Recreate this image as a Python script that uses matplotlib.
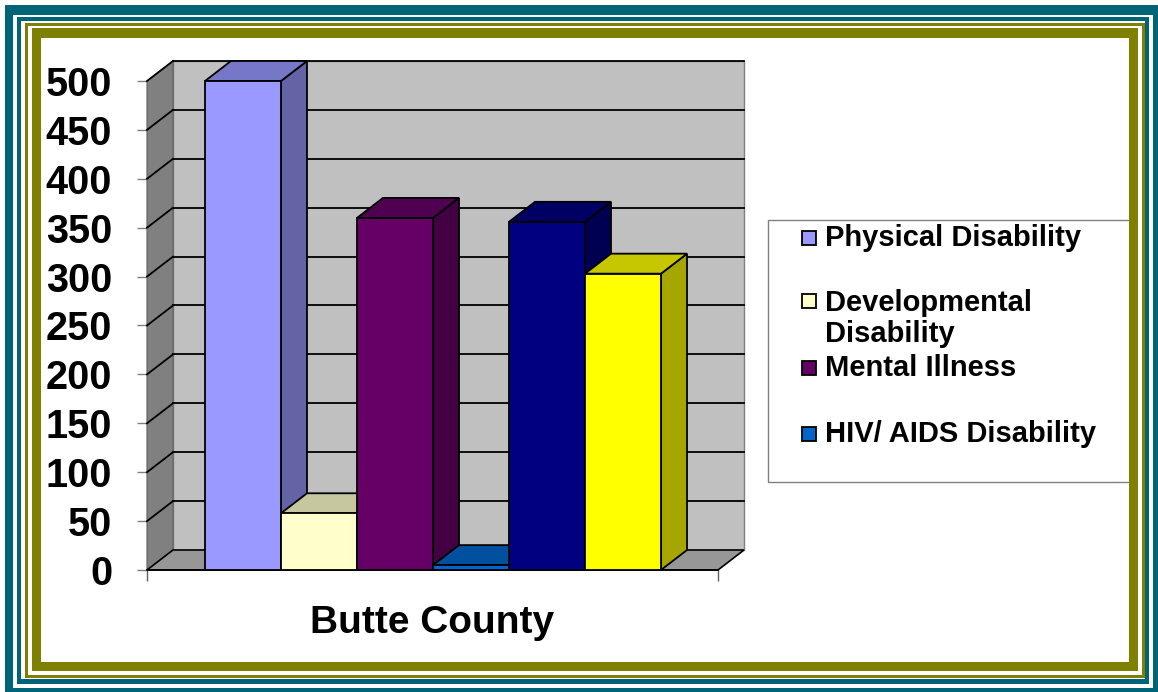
import matplotlib
matplotlib.use('Agg')
import matplotlib.pyplot as plt
from matplotlib.patches import Rectangle, Polygon, PathPatch
from matplotlib.path import Path
from matplotlib.colors import to_rgb

plt.rcParams['font.family'] = ['Liberation Sans', 'DejaVu Sans']

# data
categories = ['Physical Disability', 'Developmental Disability', 'Mental Illness',
              'HIV/ AIDS Disability', 'Series 5', 'Series 6']
values = [500, 58, 360, 5, 356, 303]
colors = ['#9999FF', '#FFFFCC', '#660066', '#0066CC', '#000080', '#FFFF00']
legend_labels = ['Physical Disability', 'Developmental\nDisability', 'Mental Illness',
                 'HIV/ AIDS Disability']
yticks = list(range(0, 501, 50))
group_label = 'Butte County'

W, H = 1158, 692
fig = plt.figure(figsize=(W / 100, H / 100), dpi=100)
fig.patch.set_facecolor('white')


def fx(px):
    return px / W


def fy(py):
    return (H - py) / H


# plot area (front floor edge 147..718 px, 0 at y=570, 500 at y=81)
ax = fig.add_axes([fx(147), fy(570), (718 - 147) / W, (570 - 81) / H])
xl, xr = -0.763, 6.75
ax.set_xlim(xl, xr)
ax.set_ylim(0, 500)
ax.patch.set_visible(False)

dx = 26 / 76.0          # depth offset in bar widths
dy = 20 / (489 / 500)   # depth offset in value units

# walls
back = Rectangle((xl + dx, dy), xr - xl, 500, facecolor='#C0C0C0',
                 edgecolor='#808080', lw=1, clip_on=False, zorder=1)
ax.add_patch(back)
side = Polygon([(xl, 0), (xl + dx, dy), (xl + dx, 500 + dy), (xl, 500)],
               closed=True, facecolor='#808080', edgecolor='#606060', lw=0.8,
               clip_on=False, zorder=1)
ax.add_patch(side)
floor = Polygon([(xl, 0), (xr, 0), (xr + dx, dy), (xl + dx, dy)], closed=True,
                facecolor='#979797', edgecolor='black', lw=1.2, clip_on=False, zorder=1)
ax.add_patch(floor)
for v in yticks[1:]:
    ax.plot([xl + dx, xr + dx], [v + dy, v + dy], color='black', lw=1.3,
            clip_on=False, zorder=2)
    ax.plot([xl, xl + dx], [v, v + dy], color='black', lw=1.3, clip_on=False, zorder=2)

# bars, left to right so nearer ones cover the side faces
for i, (v, c) in enumerate(zip(values, colors)):
    r, g, b = to_rgb(c)
    top_c = (r * 0.78, g * 0.78, b * 0.78)
    side_c = (r * 0.65, g * 0.65, b * 0.65)
    x0, x1 = i, i + 1
    ax.add_patch(Polygon([(x1, 0), (x1 + dx, dy), (x1 + dx, v + dy), (x1, v)],
                         closed=True, facecolor=side_c, edgecolor='black', lw=1.3,
                         clip_on=False, zorder=3 + i))
    ax.add_patch(Polygon([(x0, v), (x1, v), (x1 + dx, v + dy), (x0 + dx, v + dy)],
                         closed=True, facecolor=top_c, edgecolor='black', lw=1.3,
                         clip_on=False, zorder=3 + i))
    ax.add_patch(Rectangle((x0, 0), 1, v, facecolor=c, edgecolor='black', lw=1.3,
                           clip_on=False, zorder=3 + i))

# axes
for s in ['top', 'right']:
    ax.spines[s].set_visible(False)
ax.spines['left'].set_color('#808080')
ax.spines['bottom'].set_color('black')
ax.spines['bottom'].set_linewidth(1.2)
ax.spines['left'].set_zorder(0)
ax.set_yticks(yticks)
ax.set_yticklabels([str(t) for t in yticks], fontsize=28.5, fontweight='bold')
ax.tick_params(axis='y', length=7.2, width=1, color='#808080', pad=18)
ax.set_xticks([xl, xr])
ax.set_xticklabels(['', ''])
ax.tick_params(axis='x', length=8, width=1, color='#606060', direction='out')
ax.set_xlabel(group_label, fontsize=28, fontweight='bold', labelpad=14)

# legend
fig.patches.append(Rectangle((fx(768), fy(482)), (1135 - 768) / W, (482 - 220) / H,
                             transform=fig.transFigure, facecolor='white',
                             edgecolor='#808080', lw=1, zorder=5))
leg_y = [238, 318.5, 368, 434]
for lab, c, y in zip(legend_labels, colors, leg_y):
    my = 301 if '\n' in lab else y
    fig.patches.append(Rectangle((fx(802), fy(my + 7)), 14 / W, 14 / H,
                                 transform=fig.transFigure, facecolor=c,
                                 edgecolor='black', lw=1.3, zorder=6))
    fig.text(fx(825), fy(y), lab, fontsize=21, fontweight='bold', va='center',
             ha='left', linespacing=1.1, zorder=6)


# decorative frame
def band(outer, inner, color):
    x0, y0, x1, y1 = outer
    a0, b0, a1, b1 = inner
    verts = [(fx(x0), fy(y0)), (fx(x1), fy(y0)), (fx(x1), fy(y1)), (fx(x0), fy(y1)),
             (fx(x0), fy(y0)),
             (fx(a0), fy(b0)), (fx(a0), fy(b1)), (fx(a1), fy(b1)), (fx(a1), fy(b0)),
             (fx(a0), fy(b0))]
    codes = [Path.MOVETO] + [Path.LINETO] * 3 + [Path.CLOSEPOLY]
    codes = codes + codes
    fig.patches.append(PathPatch(Path(verts, codes), transform=fig.transFigure,
                                 facecolor=color, edgecolor='none', zorder=10))


teal = '#006478'
olive = '#808000'
band((5, 5, 1175, 710), (13, 15, 1153, 688), teal)
band((17, 17, 1149, 684), (21, 21, 1145, 679), teal)
band((25, 23, 1145, 678), (28, 26, 1142, 675), olive)
band((32, 28, 1138, 671), (41, 38, 1129, 662), olive)

fig.savefig('out.png', dpi=100)
